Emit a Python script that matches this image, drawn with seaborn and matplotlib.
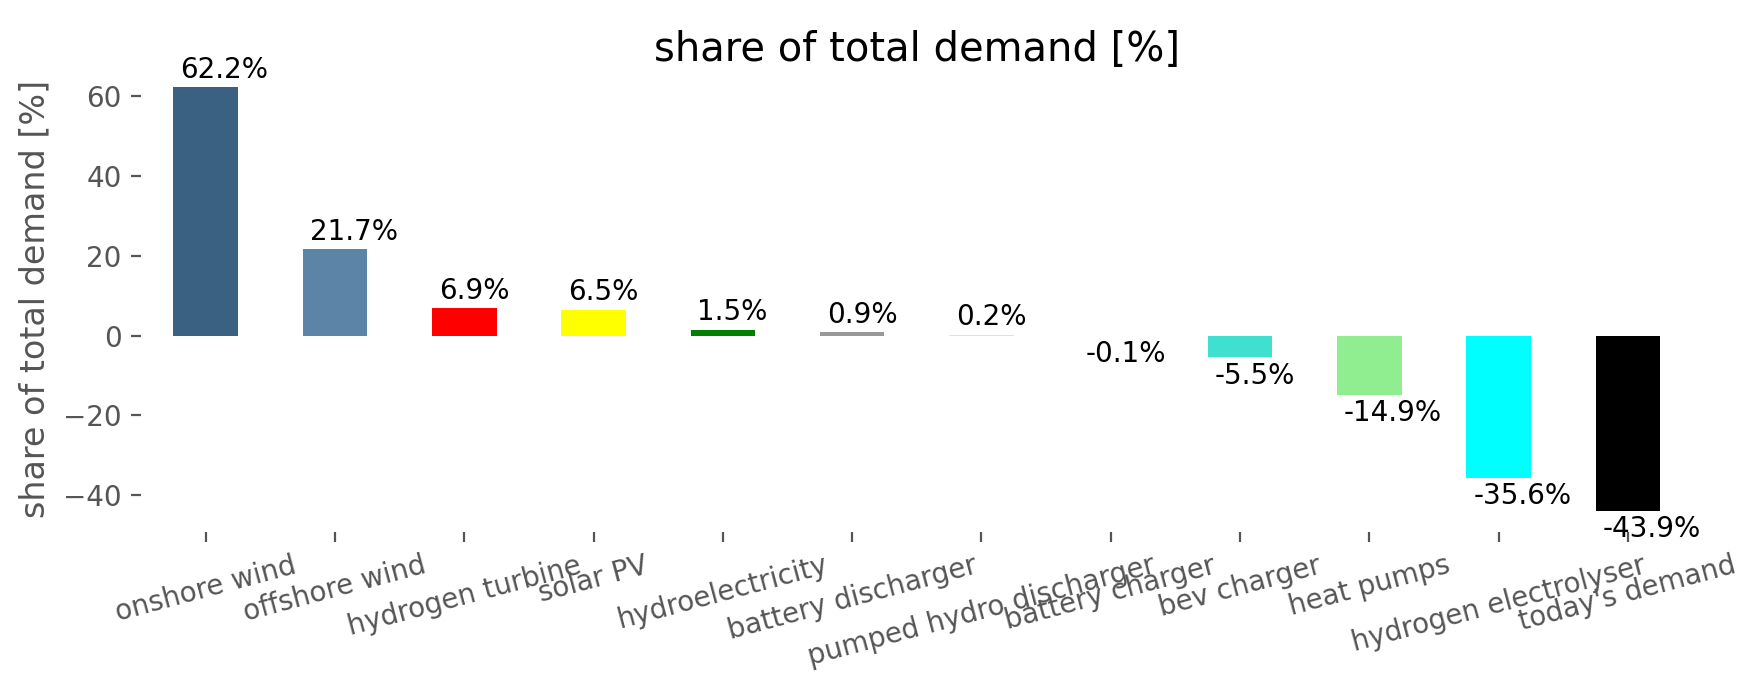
import matplotlib
matplotlib.use("Agg")
import matplotlib.pyplot as plt
import seaborn as sns

# values
names = ["onshore wind", "offshore wind", "hydrogen turbine", "solar PV",
         "hydroelectricity", "battery discharger", "pumped hydro discharger",
         "battery charger", "bev charger", "heat pumps",
         "hydrogen electrolyser", "today's demand"]
shares = [62.2, 21.7, 6.9, 6.5, 1.5, 0.9, 0.2, -0.1, -5.5, -14.9, -35.6, -43.9]
colors = ["#3b6182", "#5b84a6", "#ff0000", "#ffff00", "#008000", "#999999",
          "#d4f59a", "#aaaaaa", "#40e0d0", "#90ee90", "#00ffff", "#000000"]

sns.set_theme(style="white")
plt.rcParams["font.family"] = ["DejaVu Sans"]
plt.rcParams["xtick.color"] = "#555555"
plt.rcParams["ytick.color"] = "#555555"
plt.rcParams["axes.labelcolor"] = "#555555"
plt.rcParams["text.color"] = "black"

fig = plt.figure(figsize=(8.795, 3.445), dpi=200)
ax = fig.add_axes([0.0802, 0.228, 0.882, 0.676])

sns.barplot(x=names, y=shares, hue=names, palette=colors, width=0.5,
            saturation=1, legend=False, linewidth=0, edgecolor="none", ax=ax)

# percentage labels at the left edge of every bar
for p, v in zip(ax.patches, shares):
    if v >= 0:
        ax.annotate(f"{v}%", (p.get_x(), v), xytext=(2.5, 1.2),
                    textcoords="offset points", ha="left", va="bottom",
                    fontsize=10, color="black")
    else:
        ax.annotate(f"{v}%", (p.get_x(), v), xytext=(2.5, -1.5),
                    textcoords="offset points", ha="left", va="top",
                    fontsize=10, color="black")

sns.despine(ax=ax, left=True, bottom=True)
ax.tick_params(axis="both", which="major", direction="out", length=3.5,
               width=0.8, bottom=True, left=True, labelsize=10)
plt.setp(ax.get_xticklabels(), rotation=15, ha="center")
ax.set_xlim(-0.5, len(names) - 0.5)
ax.set_ylabel("share of total demand [%]", fontsize=12)
ax.set_xlabel("")
ax.set_title("share of total demand [%]", fontsize=14.4, pad=2, color="black")

fig.savefig("out.png", dpi=200)
